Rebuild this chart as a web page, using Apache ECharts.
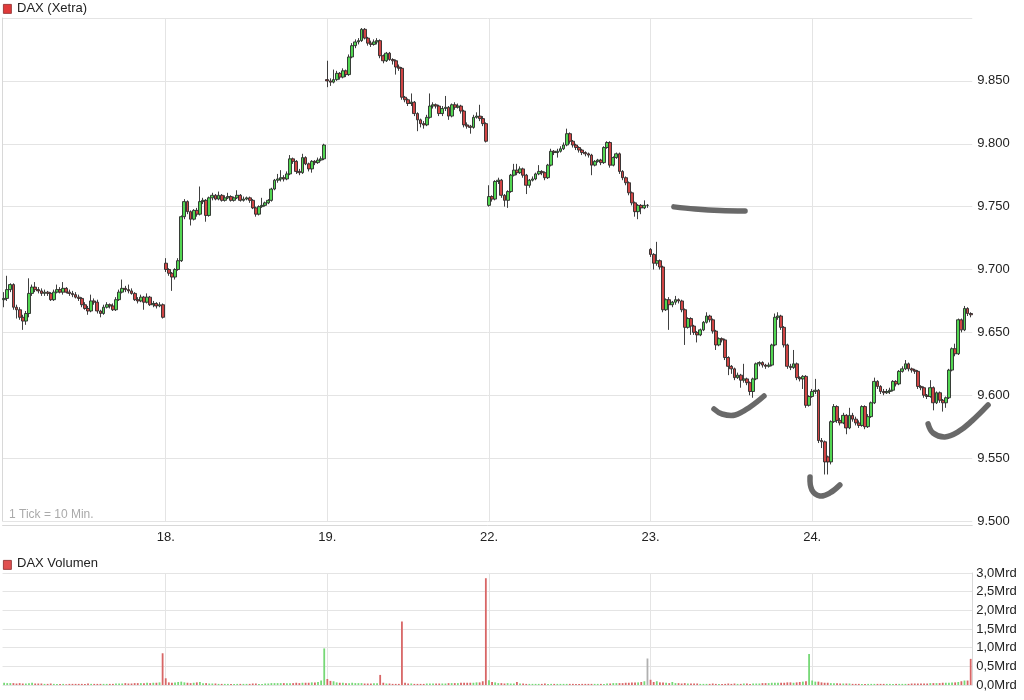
<!DOCTYPE html>
<html><head><meta charset="utf-8">
<script src="https://cdn.jsdelivr.net/npm/echarts@6/dist/echarts.min.js"></script>
<style>html,body{margin:0;padding:0;background:#fff}#c{width:1024px;height:700px}</style>
</head><body><div id="c"></div>
<script>
// ---- data: DAX (Xetra), 10-minute candles [open, close, low, high] ----
const dayLabels = ['17.', '18.', '19.', '22.', '23.', '24.'];
const candlesPerDay = 52;

const day17 = [[9676,9677,9670,9682],[9677,9684,9675,9695],[9684,9688,9682,9689],[9688,9670,9668,9689],[9670,9668,9661,9672],[9668,9662,9660,9670],[9662,9659,9652,9664],[9659,9665,9656,9667],[9665,9681,9662,9693],[9681,9686,9679,9688],
[9686,9684,9682,9690],[9684,9683,9681,9686],[9683,9681,9679,9685],[9681,9682,9679,9684],[9682,9681,9679,9683],[9681,9676,9675,9682],[9676,9682,9675,9684],[9682,9684,9681,9688],[9684,9682,9681,9686],[9682,9685,9680,9690],
[9685,9682,9681,9686],[9682,9681,9679,9684],[9681,9680,9678,9683],[9680,9678,9677,9682],[9678,9677,9675,9680],[9677,9672,9670,9678],[9672,9669,9668,9674],[9669,9667,9664,9671],[9667,9675,9666,9680],[9675,9674,9672,9677],
[9674,9667,9665,9676],[9667,9665,9662,9668],[9665,9670,9664,9672],[9670,9672,9669,9674],[9672,9671,9669,9673],[9671,9668,9667,9673],[9668,9676,9667,9678],[9676,9682,9675,9684],[9682,9685,9681,9692],[9685,9684,9682,9687],
[9684,9683,9681,9688],[9683,9681,9680,9685],[9681,9676,9675,9682],[9676,9675,9673,9678],[9675,9678,9674,9680],[9678,9674,9668,9679],[9674,9678,9673,9681],[9678,9672,9671,9679],[9672,9673,9670,9675],[9673,9671,9669,9674],
[9671,9672,9670,9674],[9672,9662,9661,9673]];

const day18 = [[9705,9700,9698,9709],[9700,9697,9695,9701],[9697,9694,9683,9698],[9694,9700,9692,9701],[9700,9707,9699,9709],[9707,9742,9706,9743],[9742,9754,9740,9756],[9754,9746,9744,9755],[9746,9740,9735,9747],[9740,9747,9739,9748],
[9747,9744,9742,9749],[9744,9754,9743,9766],[9754,9755,9752,9757],[9755,9743,9738,9756],[9743,9757,9742,9758],[9757,9759,9755,9761],[9759,9756,9755,9760],[9756,9759,9755,9762],[9759,9755,9754,9760],[9755,9757,9754,9759],
[9757,9758,9756,9761],[9758,9755,9754,9759],[9755,9757,9754,9758],[9757,9759,9756,9763],[9759,9755,9754,9760],[9755,9756,9754,9758],[9756,9757,9755,9758],[9757,9755,9753,9758],[9755,9749,9748,9756],[9749,9744,9742,9750],
[9744,9750,9743,9751],[9750,9751,9749,9757],[9751,9753,9750,9754],[9753,9755,9752,9756],[9755,9764,9754,9765],[9764,9771,9763,9772],[9771,9772,9769,9776],[9772,9773,9770,9779],[9773,9772,9770,9775],[9772,9776,9771,9778],
[9776,9788,9775,9791],[9788,9786,9784,9789],[9786,9778,9776,9787],[9778,9777,9775,9780],[9777,9789,9776,9792],[9789,9784,9783,9790],[9784,9780,9778,9785],[9780,9786,9777,9787],[9786,9785,9783,9787],[9785,9787,9784,9789],
[9787,9788,9786,9790],[9788,9799,9787,9800]];

const day19 = [[9851,9850,9845,9866],[9850,9849,9846,9852],[9849,9851,9848,9859],[9851,9856,9850,9858],[9856,9853,9851,9857],[9853,9858,9852,9860],[9858,9855,9853,9859],[9855,9869,9854,9871],[9869,9878,9868,9880],[9878,9881,9876,9883],
[9881,9882,9879,9884],[9882,9891,9881,9892],[9891,9884,9883,9892],[9884,9880,9878,9885],[9880,9879,9877,9882],[9879,9881,9878,9883],[9881,9882,9879,9884],[9882,9870,9868,9883],[9870,9866,9864,9871],[9866,9872,9865,9873],
[9872,9867,9866,9873],[9867,9866,9863,9868],[9866,9861,9855,9867],[9861,9860,9858,9863],[9860,9837,9835,9861],[9837,9835,9833,9838],[9835,9832,9830,9836],[9832,9833,9830,9840],[9833,9824,9822,9834],[9824,9819,9810,9825],
[9819,9816,9813,9820],[9816,9815,9812,9818],[9815,9821,9814,9823],[9821,9830,9820,9840],[9830,9831,9828,9833],[9831,9830,9828,9832],[9830,9824,9822,9831],[9824,9828,9822,9830],[9828,9829,9826,9838],[9829,9822,9819,9830],
[9822,9831,9821,9832],[9831,9829,9827,9833],[9829,9830,9828,9832],[9830,9826,9824,9831],[9826,9815,9813,9827],[9815,9814,9812,9817],[9814,9813,9808,9815],[9813,9821,9812,9823],[9821,9822,9820,9825],[9822,9820,9818,9831],
[9820,9816,9814,9822],[9816,9802,9801,9817]];

const day22 = [[9751,9758,9750,9767],[9758,9756,9754,9759],[9756,9770,9755,9771],[9770,9771,9768,9773],[9771,9759,9757,9772],[9759,9755,9750,9760],[9755,9762,9749,9763],[9762,9775,9761,9776],[9775,9779,9774,9784],[9779,9777,9775,9784],
[9777,9780,9776,9782],[9780,9775,9773,9781],[9775,9767,9760,9776],[9767,9771,9765,9772],[9771,9772,9770,9774],[9772,9776,9771,9777],[9776,9778,9775,9783],[9778,9777,9775,9779],[9777,9773,9771,9778],[9773,9783,9772,9784],
[9783,9794,9782,9796],[9794,9793,9791,9795],[9793,9794,9789,9796],[9794,9796,9793,9798],[9796,9799,9795,9801],[9799,9808,9798,9812],[9808,9802,9800,9809],[9802,9799,9797,9803],[9799,9797,9795,9800],[9797,9795,9793,9798],
[9795,9793,9791,9796],[9793,9792,9790,9794],[9792,9791,9789,9793],[9791,9783,9775,9792],[9783,9786,9782,9787],[9786,9787,9785,9788],[9787,9785,9783,9788],[9785,9797,9784,9798],[9797,9801,9796,9802],[9801,9783,9781,9802],
[9783,9789,9782,9790],[9789,9792,9788,9793],[9792,9778,9776,9793],[9778,9773,9771,9779],[9773,9769,9767,9774],[9769,9761,9759,9770],[9761,9753,9751,9762],[9753,9746,9742,9754],[9746,9751,9740,9752],[9751,9749,9744,9752],
[9749,9751,9748,9755],[9751,9751,9749,9752]];

const day23 = [[9716,9712,9710,9717],[9712,9705,9700,9713],[9705,9707,9703,9722],[9707,9702,9700,9708],[9702,9668,9666,9703],[9668,9676,9667,9677],[9676,9672,9652,9678],[9672,9674,9670,9675],[9674,9676,9672,9679],[9676,9675,9673,9677],
[9675,9668,9666,9676],[9668,9654,9640,9669],[9654,9661,9653,9662],[9661,9655,9648,9662],[9655,9650,9648,9656],[9650,9648,9642,9651],[9648,9652,9647,9653],[9652,9658,9651,9659],[9658,9663,9657,9666],[9663,9660,9658,9664],
[9660,9651,9649,9661],[9651,9640,9636,9652],[9640,9645,9639,9646],[9645,9644,9642,9646],[9644,9630,9628,9645],[9630,9623,9616,9631],[9623,9621,9617,9624],[9621,9614,9612,9622],[9614,9616,9613,9618],[9616,9612,9606,9617],
[9612,9613,9610,9625],[9613,9610,9608,9614],[9610,9603,9600,9611],[9603,9613,9598,9614],[9613,9625,9612,9626],[9625,9626,9623,9627],[9626,9624,9622,9627],[9624,9623,9621,9625],[9623,9624,9622,9626],[9624,9640,9623,9641],
[9640,9662,9639,9665],[9662,9663,9660,9666],[9663,9654,9652,9664],[9654,9640,9638,9655],[9640,9623,9621,9641],[9623,9622,9620,9625],[9622,9625,9621,9636],[9625,9614,9612,9626],[9614,9613,9611,9615],[9613,9615,9605,9616],
[9615,9592,9590,9616],[9592,9599,9591,9600]];

const day24 = [[9599,9603,9598,9605],[9603,9604,9601,9613],[9604,9564,9562,9605],[9564,9563,9558,9566],[9563,9547,9537,9564],[9551,9547,9537,9552],[9547,9579,9545,9580],[9579,9591,9578,9593],[9591,9580,9578,9592],[9580,9578,9576,9582],
[9578,9584,9577,9586],[9584,9574,9569,9585],[9574,9584,9573,9590],[9584,9581,9579,9586],[9581,9578,9576,9583],[9578,9576,9574,9580],[9576,9591,9575,9592],[9591,9575,9573,9592],[9575,9583,9574,9585],[9583,9594,9582,9595],
[9594,9611,9593,9614],[9611,9607,9605,9612],[9607,9603,9601,9608],[9603,9602,9600,9605],[9602,9603,9601,9605],[9603,9604,9601,9606],[9604,9611,9603,9612],[9611,9609,9607,9612],[9609,9619,9608,9620],[9619,9621,9618,9623],
[9621,9625,9620,9628],[9625,9621,9619,9626],[9621,9620,9618,9622],[9620,9619,9617,9621],[9619,9607,9605,9620],[9607,9606,9604,9608],[9606,9600,9598,9607],[9600,9599,9597,9601],[9599,9606,9598,9612],[9606,9594,9588,9607],
[9594,9602,9593,9603],[9602,9596,9594,9603],[9596,9594,9587,9597],[9594,9598,9590,9599],[9598,9620,9597,9621],[9620,9637,9619,9638],[9637,9633,9631,9641],[9633,9660,9632,9661],[9660,9652,9650,9661],[9652,9669,9651,9671],
[9669,9665,9663,9670],[9665,9664,9662,9666]];

// volume in Mrd
const vol17 = [0.06,0.05,0.05,0.05,0.04,0.05,0.04,0.04,0.05,0.06,0.04,0.04,0.04,0.03,0.03,0.04,0.03,0.03,0.03,0.03,0.02,0.03,0.03,0.03,0.03,0.03,0.03,0.04,0.03,0.03,0.03,0.03,0.03,0.03,0.03,0.03,0.04,0.04,0.04,0.05,0.04,0.04,0.05,0.05,0.05,0.05,0.06,0.05,0.06,0.06,0.07,0.85];
const vol18 = [0.18,0.07,0.06,0.07,0.08,0.09,0.07,0.06,0.05,0.06,0.07,0.08,0.05,0.05,0.04,0.04,0.04,0.03,0.03,0.03,0.03,0.03,0.03,0.03,0.03,0.03,0.03,0.03,0.04,0.04,0.03,0.03,0.04,0.04,0.05,0.05,0.05,0.05,0.05,0.05,0.05,0.05,0.06,0.05,0.06,0.06,0.06,0.07,0.07,0.08,0.12,0.98];
const vol19 = [0.16,0.11,0.10,0.07,0.06,0.06,0.05,0.05,0.06,0.05,0.05,0.05,0.04,0.04,0.04,0.05,0.05,0.27,0.06,0.04,0.04,0.03,0.03,0.03,1.70,0.06,0.04,0.04,0.03,0.03,0.03,0.03,0.04,0.04,0.04,0.04,0.04,0.04,0.04,0.05,0.05,0.05,0.05,0.06,0.06,0.06,0.06,0.06,0.07,0.07,0.10,2.86];
const vol22 = [0.13,0.08,0.07,0.05,0.05,0.04,0.05,0.04,0.04,0.08,0.04,0.04,0.03,0.03,0.03,0.03,0.03,0.03,0.04,0.03,0.03,0.03,0.03,0.03,0.03,0.03,0.03,0.03,0.03,0.03,0.03,0.03,0.03,0.03,0.03,0.03,0.03,0.03,0.04,0.04,0.05,0.05,0.05,0.05,0.06,0.06,0.07,0.07,0.07,0.08,0.10,0.71];
const vol23 = [0.14,0.08,0.10,0.07,0.07,0.06,0.05,0.08,0.05,0.05,0.04,0.05,0.04,0.04,0.04,0.04,0.03,0.03,0.03,0.03,0.04,0.03,0.03,0.03,0.03,0.04,0.03,0.04,0.03,0.03,0.04,0.04,0.03,0.04,0.04,0.04,0.05,0.05,0.05,0.06,0.06,0.06,0.06,0.06,0.07,0.07,0.06,0.07,0.08,0.09,0.10,0.83];
const vol24 = [0.12,0.09,0.09,0.07,0.06,0.06,0.05,0.05,0.05,0.04,0.04,0.04,0.04,0.03,0.03,0.03,0.03,0.03,0.03,0.03,0.03,0.03,0.03,0.03,0.03,0.03,0.03,0.03,0.03,0.03,0.03,0.03,0.04,0.04,0.04,0.04,0.04,0.04,0.05,0.05,0.05,0.05,0.06,0.06,0.06,0.07,0.07,0.08,0.10,0.12,0.12,0.70];

// hand-drawn annotation strokes: [candle position, price]
const annoFlat  = [[216.0,9749.8],[222.8,9748.2],[230.8,9747.0],[238.9,9746.6]];
const annoSmile = [[228.9,9589.1],[231.5,9585.1],[235.7,9584.3],[240.5,9590.7],[245.0,9599.4]];
const annoHook  = [[259.8,9535.0],[260.4,9524.7],[263.0,9519.9],[266.2,9522.3],[269.4,9528.6]];
const annoRight = [[297.8,9577.2],[299.4,9570.0],[303.2,9566.8],[307.4,9570.8],[311.9,9579.6],[317.1,9592.3]];

// ---- chart ----
const candles = [].concat(day17, day18, day19, day22, day23, day24);
const volumes = [].concat(vol17, vol18, vol19, vol22, vol23, vol24);
const cats = candles.map((_, i) => String(i));
const UP = '#52d652', DOWN = '#d04444';
const VUP = '#76d876', VDOWN = '#d86666', VFLAT = '#b0b0b0';
const volData = volumes.map((v, i) => {
  const c = candles[i];
  const col = c[1] > c[0] ? VUP : (c[1] < c[0] ? VDOWN : VFLAT);
  return { value: v, itemStyle: { color: col } };
});
const isDayStart = (i) => i > 0 && i % candlesPerDay === 0;
const L = 2.55, W = 969.7;
const GRID = '#e4e4e4', AXIS = '#d8d8d8', TXT = '#222';
const FONT = '"Liberation Sans", Arial, Helvetica, sans-serif';
const fmtPrice = (v) => v >= 9900 ? '' : Math.floor(v / 1000) + '.' + String(Math.round(v % 1000)).padStart(3, '0');

const chart = echarts.init(document.getElementById('c'), null, { renderer: 'canvas' });
chart.setOption({
  animation: false,
  textStyle: { fontFamily: FONT },
  grid: [
    { left: L, top: 18, width: W, height: 503 },
    { left: L, top: 573, width: W, height: 112 }
  ],
  xAxis: [
    { type: 'category', gridIndex: 0, data: cats, boundaryGap: true, offset: 4,
      axisLine: { show: true, onZero: false, lineStyle: { color: AXIS } }, axisTick: { show: false },
      axisLabel: { interval: (i) => isDayStart(i), formatter: (v, i) => dayLabels[Math.floor(i / candlesPerDay)],
        color: TXT, fontSize: 13, margin: 6, fontFamily: FONT },
      splitLine: { show: true, interval: (i) => isDayStart(i), alignWithLabel: true, lineStyle: { color: GRID } } },
    { type: 'category', gridIndex: 1, data: cats, boundaryGap: true,
      axisLine: { show: false }, axisTick: { show: false }, axisLabel: { show: false },
      splitLine: { show: true, interval: (i) => isDayStart(i), alignWithLabel: true, lineStyle: { color: GRID } } },
    { type: 'value', gridIndex: 0, min: 0, max: candles.length, show: false }
  ],
  yAxis: [
    { type: 'value', gridIndex: 0, position: 'right', min: 9500, max: 9900, interval: 50,
      axisLine: { show: true, lineStyle: { color: AXIS } }, axisTick: { show: false },
      axisLabel: { formatter: fmtPrice, color: TXT, fontSize: 13, margin: 5, fontFamily: FONT },
      splitLine: { show: true, lineStyle: { color: GRID } } },
    { type: 'value', gridIndex: 1, position: 'right', min: 0, max: 3, interval: 0.5,
      axisLine: { show: true, lineStyle: { color: AXIS } }, axisTick: { show: false },
      axisLabel: { formatter: (v) => v.toFixed(1).replace('.', ',') + 'Mrd', color: TXT, fontSize: 13, margin: 4, fontFamily: FONT },
      splitLine: { show: true, lineStyle: { color: GRID } } }
  ],
  series: [
    { type: 'candlestick', xAxisIndex: 0, yAxisIndex: 0, data: candles, barWidth: 3.3, barMaxWidth: 4,
      itemStyle: { color: UP, color0: DOWN, borderColor: '#2a2a2a', borderColor0: '#2a2a2a', borderColorDoji: '#2a2a2a', borderWidth: 0.9 } },
    { type: 'bar', xAxisIndex: 1, yAxisIndex: 1, data: volData, barWidth: 1.8 }
  ],
  graphic: [
    { type: 'rect', left: 3, top: 4, shape: { width: 8, height: 9 }, style: { fill: '#e03a3a', stroke: '#8a2a2a', lineWidth: 0.8 } },
    { type: 'text', left: 17, top: 2, style: { text: 'DAX (Xetra)', fill: TXT, font: '13px ' + FONT } },
    { type: 'rect', left: 3, top: 560, shape: { width: 8, height: 9 }, style: { fill: '#e05050', stroke: '#8a2a2a', lineWidth: 0.8 } },
    { type: 'text', left: 17, top: 557, style: { text: 'DAX Volumen', fill: TXT, font: '13px ' + FONT } },
    { type: 'text', left: 9, top: 509, style: { text: '1 Tick = 10 Min.', fill: '#aaaaaa', font: '12px ' + FONT } }
  ]
});

// annotation strokes placed through the chart's own scales (not clipped to the grid)
const toPx = (d) => d.map(p => chart.convertToPixel({ xAxisIndex: 2, yAxisIndex: 0 }, p));
chart.setOption({
  graphic: [annoFlat, annoSmile, annoHook, annoRight].map((d, k) => ({
    id: 'anno' + k, type: 'polyline', silent: true, z: 50,
    shape: { points: toPx(d), smooth: 0.4 },
    style: { stroke: '#5c5c5c', lineWidth: 5.5, lineCap: 'round', lineJoin: 'round', fill: null, opacity: 0.92 }
  }))
});
</script>
</body></html>
